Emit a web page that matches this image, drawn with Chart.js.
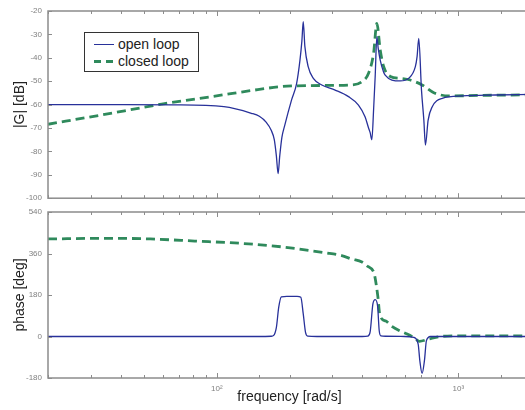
<!DOCTYPE html>
<html>
<head>
<meta charset="utf-8">
<script src="https://cdn.jsdelivr.net/npm/chart.js@4/dist/chart.umd.min.js"></script>
<style>
  html, body { margin: 0; padding: 0; background: #fff; }
  #wrap { position: relative; width: 525px; height: 410px; overflow: hidden; background: #fff; }
  #c1 { position: absolute; left: 0; top: 0; }
  #c2 { position: absolute; left: 0; top: 200px; }
  #legend { position: absolute; left: 84px; top: 32px; width: 113px; height: 38px; background: #fff;
            border: 1px solid #333; font-family: "Liberation Sans", Arial, sans-serif; font-size: 14px; color: #222; }
  .row { position: absolute; left: 0; height: 16px; line-height: 16px; white-space: nowrap; }
  .sample { position: absolute; left: 9px; top: 7px; width: 20px; height: 0; }
  .lab { position: absolute; left: 33px; top: -1px; }
</style>
</head>
<body>
<div id="wrap">
  <canvas id="c1" width="537" height="209"></canvas>
  <canvas id="c2" width="537" height="210"></canvas>
  <div id="legend"></div>
</div>
<script>
// ---------- data ----------
const seriesNames = ['open loop', 'closed loop'];

const freqOpenMag = [20, 40, 66, 107, 139, 150, 160, 168, 173, 176.5, 179.4, 182.2, 186, 191, 204, 214, 221, 225, 228,
  231.5, 239, 251, 272, 309, 351, 386, 411, 425, 431.5, 438.6, 446, 452.7, 460, 466, 475, 490, 498, 531, 575, 623, 664,
  675, 686, 704, 720, 731, 750, 780, 858, 1039, 1426, 2000];
const openMag = [-60, -60, -60.1, -60.9, -63.7, -65, -67.5, -71, -75, -82, -89.5, -82, -74, -69, -58, -51, -41, -33, -24.6,
  -35, -43.8, -48.8, -51.6, -53.8, -56.6, -60.2, -65.2, -70, -72, -75, -62, -48, -31, -36, -41, -46, -47.4, -49.5, -49.9, -48.8, -43.8,
  -39.5, -31.7, -53.8, -66.6, -77.3, -66.6, -60.9, -57.3, -56.3, -55.9, -55.6];

const freqClosedMag = [20, 33, 60, 104, 139, 185, 210, 300, 362, 399, 425, 446, 460, 475, 491, 523, 575, 633, 708, 792, 915, 1200, 2000];
const closedMag = [-68.4, -64.5, -59.7, -56, -54, -52.3, -52, -51.8, -51.6, -50.2, -46.6, -38, -25.3, -36.7, -43.8, -48, -48.8, -49.5,
  -51.6, -54.9, -56.3, -56.1, -55.8];

const freqOpenPhase = [20, 150, 168, 172, 176.5, 180.5, 185, 195, 215, 222.8, 228, 233, 238, 260, 400, 422, 431.5, 443, 452.7,
  463, 470.5, 478, 500, 600, 654, 682, 693, 708, 724, 738, 767, 2000];
const openPhase = [0, 0, 1, 5, 40, 127, 172, 174, 174, 170, 98, 18, 2, 0, 0, 2, 20, 142, 160, 134, 25, 3, 1, 0, -4, -33, -105,
  -160, -105, -18, 0, 0];

const freqClosedPhase = [20, 35, 53, 81, 126, 185, 280, 329, 362, 399, 418, 446, 451.5, 464.6, 473.5, 501, 531, 575, 614, 655,
  690, 755, 844, 1007, 2000];
const closedPhase = [423, 426, 423, 414, 404, 389, 363, 351, 336, 323, 307, 280, 259, 172, 92, 67, 44, 24, 11, -5, -21, -11, 0, 3, 2];

const magTicks = [-20, -30, -40, -50, -60, -70, -80, -90, -100];
const phaseTicks = [-180, 0, 180, 360, 540];
const freqRange = [20, 2000];

// ---------- styling ----------
const BLUE = '#28319a';
const GREEN = '#2f8a5c';
const FONT = '"Liberation Sans", Arial, sans-serif';
const pts = (xs, ys) => xs.map((v, i) => ({ x: v, y: ys[i] }));

function isPow10(v) { const l = Math.log10(v); return Math.abs(l - Math.round(l)) < 1e-9; }

const framePlugin = {
  id: 'frame',
  afterDatasetsDraw(chart) {
    const { ctx, chartArea: a, scales } = chart;
    const x = scales.x, y = scales.y;
    ctx.save();
    ctx.strokeStyle = '#8c8c8c';
    ctx.lineWidth = 1.5;
    ctx.strokeRect(a.left, a.top, a.right - a.left, a.bottom - a.top);
    ctx.lineWidth = 1;
    ctx.beginPath();
    x.ticks.forEach(t => {
      const px = Math.round(x.getPixelForValue(t.value)) + 0.5;
      const len = isPow10(t.value) ? 5 : 3;
      ctx.moveTo(px, a.bottom); ctx.lineTo(px, a.bottom - len);
      ctx.moveTo(px, a.top); ctx.lineTo(px, a.top + len);
    });
    y.ticks.forEach(t => {
      const py = Math.round(y.getPixelForValue(t.value)) + 0.5;
      ctx.moveTo(a.left, py); ctx.lineTo(a.left + 4, py);
      ctx.moveTo(a.right, py); ctx.lineTo(a.right - 4, py);
    });
    ctx.stroke();
    ctx.restore();
  }
};

function lineDs(label, data, color, width, dash) {
  return {
    label, data, borderColor: color, backgroundColor: color, borderWidth: width,
    borderDash: dash, pointRadius: 0, fill: false, cubicInterpolationMode: 'monotone'
  };
}

function makeChart(canvas, opts) {
  return new Chart(canvas, {
    type: 'line',
    data: {
      datasets: [
        lineDs(seriesNames[0], opts.open, BLUE, 1.3, []),
        lineDs(seriesNames[1], opts.closed, GREEN, 2.8, [9, 5])
      ]
    },
    options: {
      responsive: false,
      animation: false,
      devicePixelRatio: 1,
      layout: { padding: opts.padding },
      plugins: { legend: { display: false }, tooltip: { enabled: false } },
      scales: {
        x: {
          type: 'logarithmic', min: freqRange[0], max: freqRange[1],
          grid: { display: false, drawTicks: false }, border: { display: false },
          afterFit: s => { s.height = opts.xHeight; },
          ticks: {
            autoSkip: false, maxRotation: 0, padding: 6, color: '#808080',
            font: { family: FONT, size: 8 },
            callback: v => opts.xLabels ? (v === 100 ? '10\u00B2' : v === 1000 ? '10\u00B3' : '') : ''
          },
          title: opts.xTitle ? { display: true, text: opts.xTitle, color: '#222', font: { family: FONT, size: 14 }, padding: { top: 0, bottom: 4 } } : { display: false }
        },
        y: {
          type: 'linear', min: opts.yMin, max: opts.yMax,
          afterBuildTicks: s => { s.ticks = opts.yTicks.map(v => ({ value: v })); },
          afterFit: s => { s.width = 48; },
          grid: { display: false, drawTicks: false }, border: { display: false },
          ticks: { padding: 6, color: '#808080', font: { family: FONT, size: 8 } },
          title: { display: true, text: opts.yTitle, color: '#222', font: { family: FONT, size: 14 }, padding: { top: 12, bottom: 0 } }
        }
      }
    },
    plugins: [framePlugin]
  });
}

makeChart(document.getElementById('c1'), {
  open: pts(freqOpenMag, openMag), closed: pts(freqClosedMag, closedMag),
  yMin: -100, yMax: -20, yTicks: magTicks, yTitle: '|G| [dB]',
  xHeight: 0, xLabels: false, xTitle: null,
  padding: { top: 11, bottom: 3, left: 0, right: 0 }
});

makeChart(document.getElementById('c2'), {
  open: pts(freqOpenPhase, openPhase), closed: pts(freqClosedPhase, closedPhase),
  yMin: -180, yMax: 540, yTicks: phaseTicks, yTitle: 'phase [deg]',
  xHeight: 32, xLabels: true, xTitle: 'frequency [rad/s]',
  padding: { top: 12, bottom: 0, left: 0, right: 0 }
});

// HTML legend built from the series names
const legend = document.getElementById('legend');
[[BLUE, 'solid', 1.3], [GREEN, 'dashed', 3]].forEach((st, i) => {
  const row = document.createElement('div');
  row.className = 'row';
  row.style.top = (i === 0 ? 4 : 21) + 'px';
  row.style.width = '113px';
  const s = document.createElement('div');
  s.className = 'sample';
  if (st[1] === 'solid') {
    s.style.borderTop = st[2] + 'px solid ' + st[0];
  } else {
    s.style.height = '3px';
    s.style.top = '6px';
    s.style.background = 'repeating-linear-gradient(90deg,' + st[0] + ' 0 7px, transparent 7px 12px)';
  }
  const l = document.createElement('span');
  l.className = 'lab';
  l.textContent = seriesNames[i];
  row.appendChild(s); row.appendChild(l);
  legend.appendChild(row);
});
</script>
</body>
</html>
